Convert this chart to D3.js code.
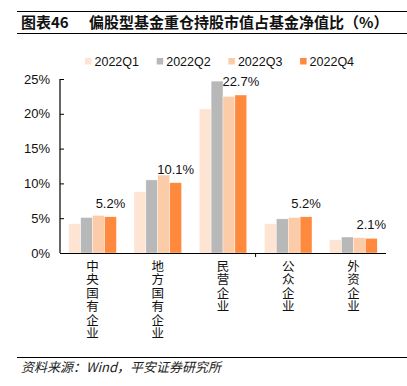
<!DOCTYPE html>
<html><head><meta charset="utf-8">
<script src="https://cdn.jsdelivr.net/npm/d3@7"></script>
<style>
html,body{margin:0;padding:0;background:#fff;}
svg{display:block;}
</style></head>
<body>
<script>
const categories = ["中央国有企业","地方国有企业","民营企业","公众企业","外资企业"];
const seriesNames = ["2022Q1","2022Q2","2022Q3","2022Q4"];
const q1 = [4.2, 8.8, 20.7, 4.2, 1.9];
const q2 = [5.1, 10.5, 24.7, 4.9, 2.3];
const q3 = [5.4, 11.2, 22.5, 5.1, 2.2];
const q4 = [5.2, 10.1, 22.7, 5.2, 2.1];
const yTicks = [0, 5, 10, 15, 20, 25];
const colors = ["#FDE4D3", "#B8B8B8", "#FCCBA8", "#FF8A3D"];
const seriesValues = [q1, q2, q3, q4];

const W = 407, H = 386;
const svg = d3.select("body").append("svg").attr("width", W).attr("height", H);
const latin = "'Liberation Sans', Arial, 'Noto Sans CJK SC', sans-serif";
const cjk = "'Noto Sans CJK SC', 'Liberation Sans', sans-serif";

// Title block
svg.append("line").attr("x1",17).attr("x2",407).attr("y1",11.5).attr("y2",11.5).attr("stroke","#000").attr("stroke-width",1.2);
svg.append("line").attr("x1",17).attr("x2",407).attr("y1",33.5).attr("y2",33.5).attr("stroke","#000").attr("stroke-width",1.2);
const title = svg.append("text").attr("x",21).attr("y",28).attr("font-family",cjk).attr("font-size",15).attr("font-weight","bold").attr("fill","#111");
title.append("tspan").text("图表46");
title.append("tspan").attr("x",89).text("偏股型基金重仓持股市值占基金净值比（%）");

// Scales
const x0 = d3.scaleBand().domain(categories).range([60, 386]).paddingInner(0.27).paddingOuter(0.135);
const x1 = d3.scaleBand().domain(seriesNames).range([0, x0.bandwidth()]);
const y = d3.scaleLinear().domain([0, 25]).range([253, 79]);

// Bars
seriesNames.forEach((s, si) => {
  svg.append("g").selectAll("rect").data(seriesValues[si]).join("rect")
    .attr("x", (d, i) => x0(categories[i]) + x1(s))
    .attr("y", d => y(d))
    .attr("width", x1.bandwidth())
    .attr("height", d => y(0) - y(d))
    .attr("fill", colors[si])
    .attr("stroke", "#fff").attr("stroke-width", 0.4);
});

// Labels (Q4 values)
svg.append("g").selectAll("text").data(q4).join("text")
  .attr("x", (d, i) => x0(categories[i]) + x1("2022Q4") + x1.bandwidth()/2)
  .attr("y", d => y(d) - 9)
  .attr("text-anchor", "middle")
  .attr("font-family", latin).attr("font-size", 13).attr("fill", "#111")
  .text(d => d.toFixed(1) + "%");

// Y axis
const yAxis = d3.axisLeft(y).tickValues(yTicks).tickSize(-4).tickPadding(10).tickFormat(d => d + "%");
const gy = svg.append("g").attr("transform", "translate(60,0)").call(yAxis);
gy.select(".domain").attr("stroke","#000").attr("stroke-width",1.2).attr("d","M0,79V253");
gy.selectAll(".tick line").attr("stroke","#000");
gy.selectAll(".tick text").attr("font-family", latin).attr("font-size", 13).attr("fill","#111");

// X axis
svg.append("line").attr("x1",60).attr("x2",386).attr("y1",253.5).attr("y2",253.5).attr("stroke","#000").attr("stroke-width",1.2);
const bx = x0.step();
svg.append("line").attr("x1", 60 + 3*bx).attr("x2", 60 + 3*bx).attr("y1",253).attr("y2",257).attr("stroke","#000");

// Category labels in vertical writing mode
svg.append("g").selectAll("text").data(categories).join("text")
  .attr("x", c => x0(c) + x0.bandwidth()/2)
  .attr("y", 260)
  .attr("writing-mode", "vertical-rl")
  .style("writing-mode", "vertical-rl")
  .attr("letter-spacing", 0.9)
  .attr("font-family", cjk).attr("font-size", 12.5).attr("fill","#111")
  .text(c => c);

// Legend
const lg = svg.append("g");
seriesNames.forEach((s, i) => {
  const lx = 85 + i*71.7;
  lg.append("rect").attr("x", lx).attr("y", 58).attr("width", 6.5).attr("height", 6.5).attr("fill", colors[i]);
  lg.append("text").attr("x", lx + 9.5).attr("y", 66.3).attr("font-family", latin).attr("font-size", 12.5).attr("fill","#111").text(s);
});

// Source
svg.append("line").attr("x1",17).attr("x2",407).attr("y1",357.5).attr("y2",357.5).attr("stroke","#000").attr("stroke-width",1.2);
svg.append("text").attr("x",21).attr("y",372).attr("font-family",cjk).attr("font-size",13).attr("font-style","italic").attr("fill","#222").text("资料来源：Wind，平安证券研究所");
</script>
</body></html>
